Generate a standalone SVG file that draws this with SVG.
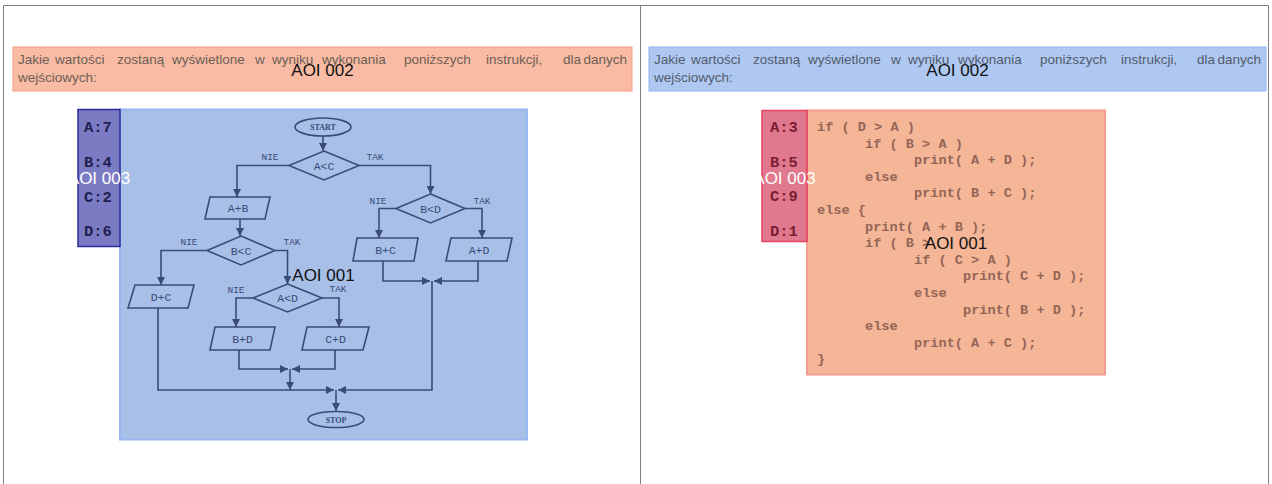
<svg xmlns="http://www.w3.org/2000/svg" width="1272" height="484" viewBox="0 0 1272 484">
  <style>
    .frame { stroke: #7f7f7f; stroke-width: 1; fill: none; }
    .hdr-text { font-family: "Liberation Sans", Arial, sans-serif; font-size: 13.5px; }
    .hdr-end { text-anchor: end; }
    .aoi { font-family: "Liberation Sans", Arial, sans-serif; font-size: 17px; text-anchor: middle; }
    .fc { fill: none; stroke: #3a4b78; stroke-width: 1.6; }
    .fc-text { font-family: "Liberation Mono", "Courier New", monospace; font-size: 11.5px; fill: #3a4b78; text-anchor: middle; }
    .fc-lbl { font-family: "Liberation Mono", "Courier New", monospace; font-size: 9.5px; fill: #3a4b78; text-anchor: middle; }
    .fc-term { font-family: "Liberation Serif", "Times New Roman", serif; font-size: 8px; font-weight: bold; fill: #3a4b78; text-anchor: middle; }
    .var { font-family: "Liberation Mono", "Courier New", monospace; font-size: 15.5px; font-weight: bold; }
    .code { font-family: "Liberation Mono", "Courier New", monospace; font-size: 13.6px; font-weight: bold; fill: #936556; white-space: pre; }
  </style>
  <defs>
    <marker id="arrow" markerUnits="userSpaceOnUse" markerWidth="8" markerHeight="8" refX="8" refY="4" orient="auto">
      <path d="M0,0 L8,4 L0,8 z" fill="#3a4b78"/>
    </marker>
  </defs>

  <rect x="0" y="0" width="1272" height="484" fill="#ffffff"/>

  <!-- page frames -->
  <g id="frames">
    <path class="frame" d="M3.5,484 V5.5 H1268.5 V484"/>
    <path class="frame" d="M640.5,5.5 V484"/>
  </g>

  <!-- left panel: question header -->
  <g id="left-header">
    <rect x="13" y="47" width="619" height="44" fill="#f9bba3" stroke="#f29c80" stroke-width="1"/>
    <text class="hdr-text" fill="#6d5f57" y="64">
      <tspan x="18">Jakie</tspan><tspan x="55">wartości</tspan><tspan x="117">zostaną</tspan><tspan x="172">wyświetlone</tspan><tspan x="255">w</tspan><tspan x="272">wyniku</tspan><tspan x="322">wykonania</tspan><tspan x="404">poniższych</tspan><tspan x="486">instrukcji,</tspan><tspan x="563">dla</tspan>
    </text>
    <text class="hdr-text hdr-end" fill="#6d5f57" x="627" y="64">danych</text>
    <text class="hdr-text" fill="#6d5f57" x="18" y="82">wejściowych:</text>
    <text class="aoi" fill="#111111" x="322.5" y="76">AOI 002</text>
  </g>

  <!-- left panel: flowchart area -->
  <g id="left-flow-area">
    <rect x="120" y="109.5" width="407" height="330" fill="#a8c0e7" stroke="#98b6f0" stroke-width="2"/>
  </g>

  <!-- left panel: input values -->
  <g id="left-vars">
    <rect x="78" y="109.5" width="42" height="137" fill="#7b7bc3" stroke="#2b2b9c" stroke-width="1.5"/>
    <text class="var" fill="#1f1f4f" x="84" y="132">A:7</text>
    <text class="var" fill="#1f1f4f" x="84" y="167">B:4</text>
    <text class="var" fill="#1f1f4f" x="84" y="202">C:2</text>
    <text class="var" fill="#1f1f4f" x="84" y="236">D:6</text>
    <text class="aoi" fill="#ffffff" x="99" y="184">AOI 003</text>
  </g>

  <!-- flowchart connectors -->
  <g id="connectors" class="fc" marker-end="url(#arrow)">
    <path d="M323,136 V151"/>
    <path d="M289,165.5 H237 V197"/>
    <path d="M359,165.5 H430.5 V194"/>
    <path d="M240,219 V236"/>
    <path d="M207,250.5 H161 V285"/>
    <path d="M275,250.5 H287.5 V284"/>
    <path d="M253,298 H236 V327"/>
    <path d="M322,298 H339 V327"/>
    <path d="M396,208.5 H379 V238"/>
    <path d="M465,208.5 H482 V238"/>
    <path d="M383,261 V281 H430"/>
    <path d="M478,261 V281 H434"/>
    <path d="M432,281 V390 H338"/>
    <path d="M239,350 V369 H288"/>
    <path d="M335,350 V369 H292"/>
    <path d="M290,369 V390"/>
    <path d="M158,308 V390 H334"/>
    <path d="M336,390 V411"/>
  </g>

  <!-- flowchart nodes -->
  <g id="start">
    <ellipse class="fc" cx="323" cy="127" rx="28" ry="9"/>
    <text class="fc-term" x="323" y="130">START</text>
  </g>
  <g id="cond-a-lt-c">
    <polygon class="fc" points="324,151 359,165.5 324,180 289,165.5"/>
    <text class="fc-text" x="324" y="169.5">A&lt;C</text>
    <text class="fc-lbl" x="270" y="160">NIE</text>
    <text class="fc-lbl" x="375" y="160">TAK</text>
  </g>
  <g id="out-a-plus-b">
    <polygon class="fc" points="210,197 270,197 265,219 205,219"/>
    <text class="fc-text" x="238" y="212">A+B</text>
  </g>
  <g id="cond-b-lt-d">
    <polygon class="fc" points="430.5,194 465,208.5 430.5,223 396,208.5"/>
    <text class="fc-text" x="430.5" y="212.5">B&lt;D</text>
    <text class="fc-lbl" x="378" y="204">NIE</text>
    <text class="fc-lbl" x="482" y="204">TAK</text>
  </g>
  <g id="out-b-plus-c">
    <polygon class="fc" points="357,238 418,238 414,261 353,261"/>
    <text class="fc-text" x="385.5" y="253.5">B+C</text>
  </g>
  <g id="out-a-plus-d">
    <polygon class="fc" points="451,238 512,238 507,261 446,261"/>
    <text class="fc-text" x="479" y="253.5">A+D</text>
  </g>
  <g id="cond-b-lt-c">
    <polygon class="fc" points="241,236 275,250.5 241,265 207,250.5"/>
    <text class="fc-text" x="241" y="254.5">B&lt;C</text>
    <text class="fc-lbl" x="189" y="245">NIE</text>
    <text class="fc-lbl" x="292" y="245">TAK</text>
  </g>
  <g id="out-d-plus-c">
    <polygon class="fc" points="135,285 194,285 188,308 128,308"/>
    <text class="fc-text" x="161" y="300.5">D+C</text>
  </g>
  <g id="cond-a-lt-d">
    <polygon class="fc" points="287.5,284 322,298 287.5,312 253,298"/>
    <text class="fc-text" x="287.5" y="302">A&lt;D</text>
    <text class="fc-lbl" x="236" y="293">NIE</text>
    <text class="fc-lbl" x="338" y="292">TAK</text>
  </g>
  <g id="out-b-plus-d">
    <polygon class="fc" points="215,327 275,327 270,350 210,350"/>
    <text class="fc-text" x="242.5" y="342.5">B+D</text>
  </g>
  <g id="out-c-plus-d">
    <polygon class="fc" points="307,327 369,327 363,350 302,350"/>
    <text class="fc-text" x="335.5" y="342.5">C+D</text>
  </g>
  <g id="stop">
    <ellipse class="fc" cx="336" cy="419.5" rx="28" ry="8"/>
    <text class="fc-term" x="336" y="422.5">STOP</text>
  </g>

  <g id="left-flow-label">
    <text class="aoi" fill="#111111" x="323.5" y="281">AOI 001</text>
  </g>

  <!-- right panel: question header -->
  <g id="right-header">
    <rect x="649" y="47" width="617" height="44" fill="#aec8f2" stroke="#8fb0ec" stroke-width="1"/>
    <text class="hdr-text" fill="#535b6b" y="64">
      <tspan x="654">Jakie</tspan><tspan x="691">wartości</tspan><tspan x="753">zostaną</tspan><tspan x="808">wyświetlone</tspan><tspan x="891">w</tspan><tspan x="908">wyniku</tspan><tspan x="958">wykonania</tspan><tspan x="1040">poniższych</tspan><tspan x="1121">instrukcji,</tspan><tspan x="1197">dla</tspan>
    </text>
    <text class="hdr-text hdr-end" fill="#535b6b" x="1261" y="64">danych</text>
    <text class="hdr-text" fill="#535b6b" x="654" y="82">wejściowych:</text>
    <text class="aoi" fill="#111111" x="957.5" y="76">AOI 002</text>
  </g>

  <!-- right panel: code listing -->
  <g id="right-code">
    <rect x="807" y="110.5" width="298" height="264" fill="#f5b597" stroke="#f79c90" stroke-width="2"/>
    <text class="code" x="817" y="131">if ( D &gt; A )</text>
    <text class="code" x="865" y="147.6">if ( B &gt; A )</text>
    <text class="code" x="914" y="164.2">print( A + D );</text>
    <text class="code" x="865" y="180.8">else</text>
    <text class="code" x="914" y="197.4">print( B + C );</text>
    <text class="code" x="817" y="214">else {</text>
    <text class="code" x="865" y="230.6">print( A + B );</text>
    <text class="code" x="865" y="247.2">if ( B &gt;</text>
    <text class="code" x="914" y="263.8">if ( C &gt; A )</text>
    <text class="code" x="963" y="280.4">print( C + D );</text>
    <text class="code" x="914" y="297">else</text>
    <text class="code" x="963" y="313.6">print( B + D );</text>
    <text class="code" x="865" y="330.2">else</text>
    <text class="code" x="914" y="346.8">print( A + C );</text>
    <text class="code" x="817" y="363.4">}</text>
    <text class="aoi" fill="#111111" x="956" y="249">AOI 001</text>
  </g>

  <!-- right panel: input values -->
  <g id="right-vars">
    <rect x="762" y="110.5" width="45" height="131" fill="#e0788e" stroke="#e8405e" stroke-width="1.5"/>
    <text class="var" fill="#7a1f33" x="770" y="132">A:3</text>
    <text class="var" fill="#7a1f33" x="770" y="167">B:5</text>
    <text class="var" fill="#7a1f33" x="770" y="201">C:9</text>
    <text class="var" fill="#7a1f33" x="770" y="236">D:1</text>
    <text class="aoi" fill="#ffffff" x="784.5" y="184">AOI 003</text>
  </g>
</svg>
